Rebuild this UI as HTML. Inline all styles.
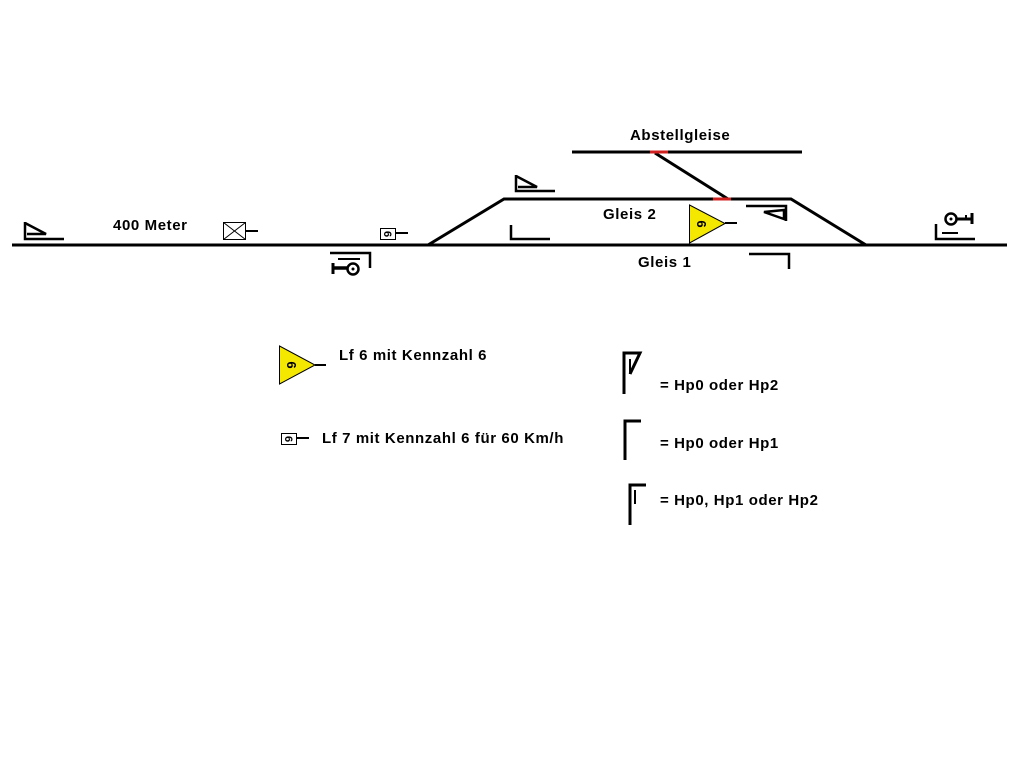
<!DOCTYPE html>
<html><head><meta charset="utf-8"><style>
html,body{margin:0;padding:0;background:#fff;}
svg{display:block}
text{font-family:"Liberation Sans","DejaVu Sans",sans-serif;font-weight:bold;font-size:15px;letter-spacing:0.6px;fill:#000}
</style></head><body>
<svg width="1024" height="768" viewBox="0 0 1024 768" xmlns="http://www.w3.org/2000/svg">
<g stroke="#000" stroke-width="3" fill="none">
 <line x1="12" y1="245" x2="1007" y2="245"/>
 <polyline points="428,245 504,199 791,199 866,245"/>
 <line x1="572" y1="152" x2="802" y2="152"/>
 <line x1="655" y1="153" x2="728" y2="199"/>
</g>
<line x1="650" y1="152" x2="668" y2="152" stroke="#d02020" stroke-width="3"/>
<line x1="713" y1="199" x2="731" y2="199" stroke="#d02020" stroke-width="3"/>

<text x="630" y="140">Abstellgleise</text>
<text x="603" y="219">Gleis 2</text>
<text x="638" y="267">Gleis 1</text>
<text x="113" y="230">400 Meter</text>

<g stroke="#000" stroke-width="2.5" fill="none">
 <path d="M25,222 L25,239 L64,239"/>
 <path d="M25,223 L46,234 L27,234"/>
 <path d="M516,175 L516,191 L555,191"/>
 <path d="M516,176 L537,187 L518,187"/>
 <path d="M511,225 L511,239 L550,239"/>
 <path d="M746,206 L786,206 L786,221"/>
 <path d="M784,210 L764,212 L784,219 Z"/>
 <path d="M749,254 L789,254 L789,269"/>
 <path d="M330,253 L370,253 L370,268"/>
 <path d="M936,224 L936,239 L975,239"/>
</g>
<line x1="338" y1="259" x2="360" y2="259" stroke="#000" stroke-width="2"/>
<circle cx="353" cy="269" r="5.5" stroke="#000" stroke-width="2.5" fill="#fff"/>
<circle cx="353" cy="269" r="1.5" fill="#000"/>
<line x1="333" y1="268" x2="347" y2="268" stroke="#000" stroke-width="3.5"/>
<line x1="333" y1="263" x2="333" y2="274" stroke="#000" stroke-width="3"/>

<line x1="942" y1="233" x2="958" y2="233" stroke="#000" stroke-width="2"/>
<circle cx="951" cy="219" r="5.5" stroke="#000" stroke-width="2.5" fill="#fff"/>
<circle cx="951" cy="219" r="1.5" fill="#000"/>
<line x1="957" y1="219" x2="972" y2="219" stroke="#000" stroke-width="3"/>
<line x1="972" y1="213" x2="972" y2="224" stroke="#000" stroke-width="3"/>
<line x1="966" y1="215" x2="966" y2="219" stroke="#000" stroke-width="2"/>

<g stroke="#000" stroke-width="1" fill="none">
 <rect x="223.5" y="222.5" width="22" height="17"/>
 <line x1="223.5" y1="222.5" x2="245.5" y2="239.5"/>
 <line x1="245.5" y1="222.5" x2="223.5" y2="239.5"/>
</g>
<line x1="246" y1="231" x2="258" y2="231" stroke="#000" stroke-width="2"/>

<rect x="380.5" y="228.5" width="15" height="11" fill="#fff" stroke="#000" stroke-width="1"/>
<text transform="translate(388,234) rotate(90)" text-anchor="middle" dy="4" style="font-size:11px;letter-spacing:0">6</text>
<line x1="396" y1="233" x2="408" y2="233" stroke="#000" stroke-width="2"/>

<polygon points="689.5,205 689.5,243 725,223.5" fill="#f5e800" stroke="#000" stroke-width="1"/>
<text transform="translate(702,224) rotate(90)" text-anchor="middle" dy="5" style="font-size:13px;letter-spacing:0">6</text>
<line x1="725" y1="223" x2="737" y2="223" stroke="#000" stroke-width="2"/>

<polygon points="279.5,346 279.5,384 315,365" fill="#f5e800" stroke="#000" stroke-width="1"/>
<text transform="translate(292,365) rotate(90)" text-anchor="middle" dy="5" style="font-size:13px;letter-spacing:0">6</text>
<line x1="315" y1="365" x2="326" y2="365" stroke="#000" stroke-width="2"/>
<text x="339" y="360">Lf 6 mit Kennzahl 6</text>

<rect x="281.5" y="433.5" width="15" height="11" fill="#fff" stroke="#000" stroke-width="1"/>
<text transform="translate(289,439) rotate(90)" text-anchor="middle" dy="4" style="font-size:11px;letter-spacing:0">6</text>
<line x1="297" y1="438" x2="309" y2="438" stroke="#000" stroke-width="2"/>
<text x="322" y="443">Lf 7 mit Kennzahl 6 für 60 Km/h</text>

<g stroke="#000" stroke-width="3" fill="none">
 <path d="M624,394 L624,353 L640,353 L630,374"/>
 <line x1="630" y1="359" x2="630" y2="374" stroke-width="2"/>
 <path d="M625,460 L625,421 L641,421"/>
 <path d="M630,525 L630,485 L646,485"/>
 <line x1="635" y1="490" x2="635" y2="504" stroke-width="2"/>
</g>
<text x="660" y="390">= Hp0 oder Hp2</text>
<text x="660" y="448">= Hp0 oder Hp1</text>
<text x="660" y="505">= Hp0, Hp1 oder Hp2</text>
</svg>
</body></html>
